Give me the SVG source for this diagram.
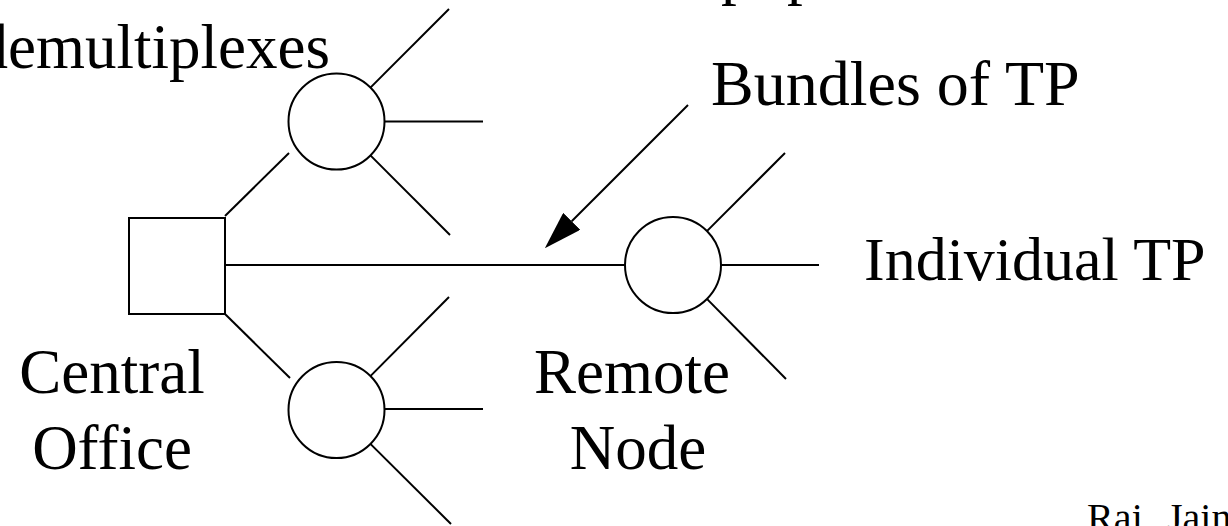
<svg xmlns="http://www.w3.org/2000/svg" width="1228" height="526" viewBox="0 0 1228 526">
  <style>
    .ln { stroke: #000; stroke-width: 2; fill: none; }
    .nd { stroke: #000; stroke-width: 2; fill: #fff; }
    .t { font-family: "Liberation Serif", "Times New Roman", serif; font-size: 63px; fill: #000; }
    .s { font-family: "Liberation Serif", "Times New Roman", serif; font-size: 40px; fill: #000; }
  </style>
  <defs>
    <marker id="arr" viewBox="0 0 38 24" refX="0" refY="12" markerWidth="38" markerHeight="24" markerUnits="userSpaceOnUse" orient="auto">
      <path d="M0,0 L38,12 L0,24 Z" fill="#000"/>
    </marker>
  </defs>
  <rect width="1228" height="526" fill="#fff"/>

  <g id="connectors">
    <line class="ln" x1="225" y1="265" x2="625" y2="265"/>
    <line class="ln" x1="225" y1="216" x2="289" y2="153"/>
    <line class="ln" x1="225" y1="314" x2="290" y2="378"/>
    <!-- top mux fan-out -->
    <line class="ln" x1="370.4" y1="87.6" x2="449" y2="9"/>
    <line class="ln" x1="384.5" y1="121.5" x2="483" y2="121.5"/>
    <line class="ln" x1="370.4" y1="155.4" x2="450" y2="235"/>
    <!-- bottom mux fan-out -->
    <line class="ln" x1="370.4" y1="376.1" x2="449" y2="297"/>
    <line class="ln" x1="384.5" y1="409" x2="483" y2="409"/>
    <line class="ln" x1="370.4" y1="443.9" x2="451" y2="524"/>
    <!-- remote node fan-out -->
    <line class="ln" x1="706.9" y1="231.1" x2="785" y2="153"/>
    <line class="ln" x1="721" y1="265" x2="819" y2="265"/>
    <line class="ln" x1="706.9" y1="298.9" x2="786" y2="379"/>
    <!-- pointer arrow -->
    <line class="ln" x1="688" y1="105" x2="571.7" y2="221.3" marker-end="url(#arr)"/>
  </g>

  <g id="central-office">
    <rect class="nd" x="129" y="218" width="96" height="96"/>
    <text class="t" x="112" y="393" text-anchor="middle">Central</text>
    <text class="t" x="112" y="469" text-anchor="middle">Office</text>
  </g>

  <g id="mux-top">
    <circle class="nd" cx="336.5" cy="121.5" r="48"/>
  </g>

  <g id="mux-bottom">
    <circle class="nd" cx="336.5" cy="410" r="48"/>
  </g>

  <g id="remote-node">
    <circle class="nd" cx="673" cy="265" r="48"/>
    <text class="t" x="632" y="393" text-anchor="middle">Remote</text>
    <text class="t" x="638" y="469" text-anchor="middle">Node</text>
  </g>

  <g id="labels">
    <text class="t" x="721 787" y="-8">pp</text>
    <text class="t" x="330" y="68" text-anchor="end">demultiplexes</text>
    <text class="t" x="711" y="105" style="font-size:64px">Bundles of TP</text>
    <text class="t" x="864" y="280" style="font-size:62px">Individual TP</text>
    <text class="s" x="1087" y="531">Raj <tspan x="1167">Jain</tspan></text>
  </g>
</svg>
